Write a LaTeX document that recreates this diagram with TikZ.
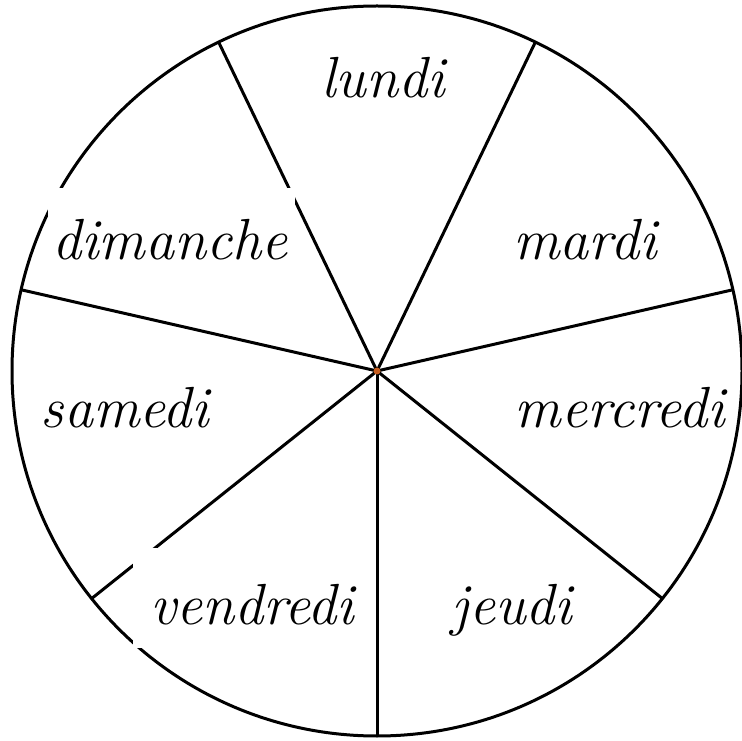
\documentclass[tikz,border=0pt]{standalone}
\usepackage{fontspec}
\usetikzlibrary{calc}
\definecolor{hubcolor}{RGB}{196,92,30}
\begin{document}
\begin{tikzpicture}[
    x=1pt, y=1pt,
    wheel/.style={draw=black, line width=3pt},
    spoke/.style={draw=black, line width=3pt},
    patch/.style={fill=white, draw=none},
    day/.style={font=\fontsize{58}{64}\selectfont\itshape, inner sep=0pt}
]
    \useasboundingbox (0,0) rectangle (742,740);

    \coordinate (hub) at (377,369);
    \draw [wheel] (hub) circle (365);

    % rim points, every 360/7 degrees
    \coordinate (r1) at ($(hub)+(-90:365)$);
    \coordinate (r2) at ($(hub)+(-38.57:365)$);
    \coordinate (r3) at ($(hub)+(12.86:365)$);
    \coordinate (r4) at ($(hub)+(64.29:365)$);
    \coordinate (r5) at ($(hub)+(115.71:365)$);
    \coordinate (r6) at ($(hub)+(167.14:365)$);
    \coordinate (r7) at ($(hub)+(218.57:365)$);

    \draw [spoke] (hub) -- (r1);
    \draw [spoke] (hub) -- (r2);
    \draw [spoke] (hub) -- (r3);
    \draw [spoke] (hub) -- (r4);
    \draw [spoke] (hub) -- (r5);
    \draw [spoke] (hub) -- (r6);
    \draw [spoke] (hub) -- (r7);

    % white label backgrounds
    \fill [patch] (48,472) rectangle (295,552);
    \fill [patch] (133,92) rectangle (370,192);
    \fill [patch] (500,315) rectangle (735,362);

    \fill [hubcolor] (hub) circle (3.5);

    \node [day] (lundi) at (383,662) {lundi};
    \node [day] (mardi) at (585,500) {mardi};
    \node [day] (mercredi) at (620,332) {mercredi};
    \node [day] (jeudi) at (512,130) {jeudi};
    \node [day] (vendredi) at (252,135) {vendredi};
    \node [day] (samedi) at (125,332) {samedi};
    \node [day] (dimanche) at (170,500) {dimanche};
\end{tikzpicture}
\end{document}
